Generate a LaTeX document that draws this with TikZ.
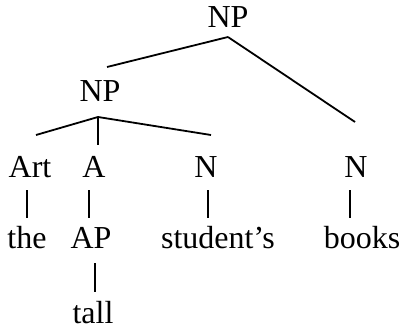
\documentclass[tikz,border=0pt]{standalone}
\usepackage{fontspec}
\setmainfont{Liberation Serif}
\usetikzlibrary{positioning}

\begin{document}
\begin{tikzpicture}[x=1pt,y=-1pt]
	\useasboundingbox (0,0) rectangle (402,329);
	\begin{scope}[every node/.style={anchor=base, inner sep=0pt, font=\fontsize{32}{38}\selectfont}]
		\node (np1) at (228,28) {NP};
		\node (np2) at (100,102) {NP};
		\node (art) at (30,177) {Art};
		\node (adj) at (94,177) {A};
		\node (n1) at (206,177) {N};
		\node (n2) at (356,177) {N};
		\node (the) at (27,248) {the};
		\node (ap) at (91,248) {AP};
		\node (student) at (218,248) {student’s};
		\node (books) at (362,248) {books};
		\node (tall) at (93,323) {tall};
	\end{scope}

	% branch points and line ends
	\coordinate (np1-b) at (228,37);
	\coordinate (np2-t) at (107,67);
	\coordinate (n2-t) at (355,122);
	\coordinate (np2-b) at (98,117);
	\coordinate (art-t) at (36,135);
	\coordinate (adj-t) at (98,145);
	\coordinate (n1-t) at (211,135);

	\begin{scope}[every edge/.style={draw=black, line width=1.8pt}]
		\path (np1-b) edge (np2-t);
		\path (np1-b) edge (n2-t);
		\path (np2-b) edge (art-t);
		\path (np2-b) edge (adj-t);
		\path (np2-b) edge (n1-t);
	\end{scope}

	% bars between a category and its word
	\foreach \w/\x/\ya/\yb in {the/27/190/218, ap/89/190/218, student/208/190/218, books/350/190/218, tall/95/263/292} {
		\coordinate (\w-up) at (\x,\ya);
		\coordinate (\w-lo) at (\x,\yb);
		\draw[line width=1.5pt] (\w-up) -- (\w-lo);
	}
\end{tikzpicture}
\end{document}
